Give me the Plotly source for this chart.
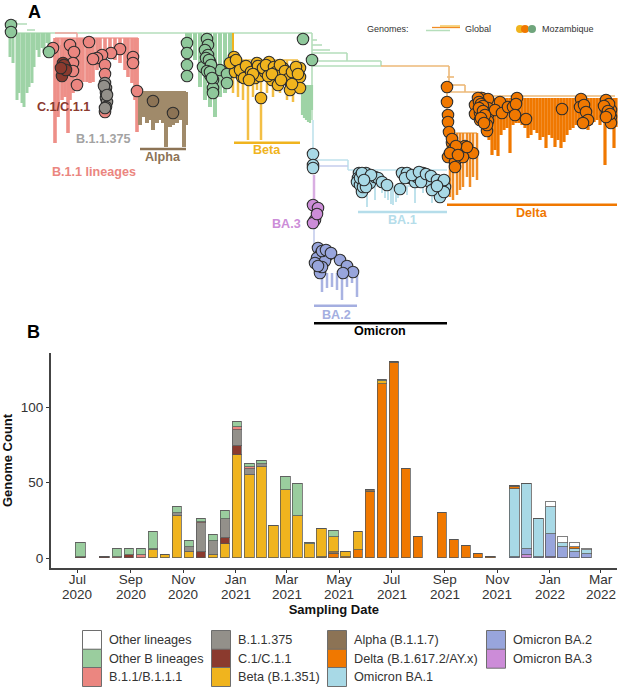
import plotly.graph_objects as go

# ---- panel B data (genomes per two week bin) ----
dates = ["2020-07-05", "2020-08-02", "2020-08-16", "2020-08-30", "2020-09-13", "2020-09-27", "2020-10-11",
         "2020-10-25", "2020-11-08", "2020-11-22", "2020-12-06", "2020-12-20", "2021-01-03", "2021-01-17",
         "2021-01-31", "2021-02-14", "2021-02-28", "2021-03-14", "2021-03-28", "2021-04-11", "2021-04-25",
         "2021-05-09", "2021-05-23", "2021-06-06", "2021-06-20", "2021-07-04", "2021-07-18", "2021-08-01",
         "2021-08-29", "2021-09-12", "2021-09-26", "2021-10-10", "2021-10-24", "2021-11-21", "2021-12-05",
         "2021-12-19", "2022-01-02", "2022-01-16", "2022-01-30", "2022-02-13"]

ba3 =     [0,0,0,0,0,0,0,0,0,0,0,0,0,0,0,0,0,0,0,0,0,0,0,0,0,0,0,0,0,0,0,0,0,0,2,0,1,0,0,0]
ba2 =     [0,0,0,0,0,0,0,0,0,0,0,0,0,0,0,0,0,0,0,0,0,0,0,0,0,0,0,0,0,0,0,0,0,1,4,1,15,7,4,3]
ba1 =     [0,0,0,0,0,0,0,0,0,0,0,0,0,0,0,0,0,0,0,0,0,0,0,0,0,0,0,0,0,0,0,0,0,45,43,25,18,3,2,2]
delta =   [0,0,0,0,0,0,0,0,0,0,0,0,0,0,0,0,0,0,0,0,3,1,5,44,115,129,59,14,30,12,8,3,1,1,0,0,0,0,1,0]
alpha =   [0,0,0,0,0,0,0,0,0,0,0,0,0,0,0,0,0,0,0,1,1,0,0,1,0,1,0,0,0,0,0,0,0,1,0,0,0,0,0,0]
beta =    [0,0,0,0,0,5,2,28,4,0,2,9,68,55,60,21,45,28,9,18,10,3,12,0,2,0,0,0,0,0,0,0,0,0,0,0,0,0,0,0]
c1 =      [1,1,0,2,0,0,0,0,0,4,0,4,6,0,0,0,0,0,0,0,0,0,0,0,0,0,0,0,0,0,0,0,0,0,0,0,0,0,0,0]
b11375 =  [0,0,0,0,0,1,0,2,3,19,9,13,11,4,2,0,0,0,0,0,0,0,0,0,0,0,0,0,0,0,0,0,0,0,0,0,0,0,0,0]
b11 =     [0,0,1,0,2,0,0,0,0,1,0,0,2,1,0,0,0,0,0,0,0,0,0,0,0,0,0,0,0,0,0,0,0,0,0,0,0,0,0,0]
other_b = [9,0,5,4,4,11,0,4,4,2,4,5,3,2,2,0,9,21,1,0,4,0,0,0,1,0,0,0,0,0,0,0,0,0,0,0,0,0,0,0]
other =   [0,0,0,0,0,0,0,0,0,0,0,0,0,0,0,0,0,0,0,0,0,0,0,0,0,0,0,0,0,0,0,0,0,0,0,0,3,4,3,1]

stack_series = [ba3, ba2, ba1, delta, alpha, beta, c1, b11375, b11, other_b, other]
stack_names = ["Omicron BA.3", "Omicron BA.2", "Omicron BA.1", "Delta (B.1.617.2/AY.x)", "Alpha (B.1.1.7)",
               "Beta (B.1.351)", "C.1/C.1.1", "B.1.1.375", "B.1.1/B.1.1.1", "Other B lineages", "Other lineages"]
stack_colors = ["#CC8CD8", "#98A5DC", "#A8D9E6", "#F07800", "#8C7355",
                "#F0B41E", "#8B3A2E", "#93908A", "#EB8680", "#9ACD9E", "#FFFFFF"]

month_ticks = ["2020-07-01", "2020-09-01", "2020-11-01", "2021-01-01", "2021-03-01", "2021-05-01",
               "2021-07-01", "2021-09-01", "2021-11-01", "2022-01-01", "2022-03-01"]
month_labels = ["Jul", "Sep", "Nov", "Jan", "Mar", "May", "Jul", "Sep", "Nov", "Jan", "Mar"]
year_labels = ["2020", "2020", "2020", "2021", "2021", "2021", "2021", "2021", "2021", "2022", "2022"]

# ---- panel A data, tree axis units ----
# hanging tips: x position and how deep each one goes
green1_x = [10,13,17,19,22,24,27,29,32,34,37,39,42,44,47,49]
green1_end = [57,63,100,93,103,107,93,87,83,67,50,57,48,53,43,47]
red_x = [55,58,62,65,68,70,73,77,80,83,87,90,93,97,100,105,110,115,120,125,128,132,135,137]
red_end = [143,117,100,97,133,100,93,90,82,82,82,83,82,70,67,57,53,60,63,70,77,83,100,132]
alpha_x = [140,143,147,150,153,157,160,163,166,170,173,177,180,184,186]
alpha_end = [125,117,123,120,130,123,120,123,147,127,125,123,120,147,125]
green2_x = [187,190,195,200,205,210,215,220,225,230]
green2_end = [40,43,60,87,100,107,117,97,93,87]
beta_x = [233,238,243,248,253,257,261,267,273,280,287,293,298]
beta_end = [93,97,100,140,97,90,140,93,97,93,100,102,93]
green3_x = [302,304,306,308,310,312]
green3_end = [115,118,120,122,123,110]
delta_x = [480,483,486,489,492,495,498,501,504,507,510,513,516,519,522,525,528,531,534,537,540,543,546,549,
           552,555,558,561,564,567,570,573,576,579,582,585,588,591,594,597,600,603,605,608,611,614,616]
delta_end = [122,128,135,140,155,150,156,135,130,128,153,125,123,123,125,128,138,135,130,133,140,137,148,135,
             138,147,140,148,142,135,130,128,125,122,128,122,130,125,122,120,125,120,165,125,127,148,127]
delta2_x = [450,453,457,460,463,467,470,473,477]
delta2_end = [197,200,195,190,187,177,187,177,180]
ba1_x = [358,367,375,382,385,388,391,393,396,398,407,415,423,432,437]
ba1_end = [195,207,200,193,198,200,204,205,202,198,195,203,193,203,197]
ba2_x = [322,327,332,337,342,347,352,357]
ba2_end = [292,288,287,290,300,287,283,297]

# tips in circles: Mozambique genomes
green_cx = [11,11,49,187,187,187,187,207,208,205,208,210,208,210,213,213,213,203,220,227,227,303,312,
            206,209,211,207,210,212]
green_cy = [25,32,52,43,53,65,76,39,45,50,55,62,68,75,80,88,93,67,70,74,83,39,60,
            58,60,65,71,72,78]
red_cx = [53,70,74,89,73,73,77,120,111,102,97,93,105,133,133,137,105,105]
red_cy = [48,45,52,42,63,71,85,49,53,55,58,59,65,57,63,91,74,112]
c1_cx = [63,65,63,62,64,66,61]
c1_cy = [63,67,72,76,65,70,68]
grey_cx = [105,106,106,106,107,106,105,104,107]
grey_cy = [83,88,93,98,102,107,108,86,95]
alpha_cx = [153,173]
alpha_cy = [101,113]
beta_cx = [234,233,238,235,243,242,248,257,255,255,260,269,270,272,277,278,283,287,290,290,295,293,300,300,300,261,230,265,
           236,240,246,244,251,258,263,266,268,274,276,280,285,288,292,296,298,253,249,272,281,292]
beta_cy = [57,62,65,72,70,77,73,63,70,78,76,62,70,80,75,85,68,75,82,90,70,78,68,77,88,98,63,72,
           60,70,66,78,72,66,68,65,76,67,72,65,71,79,72,67,74,74,80,74,80,84]
ba1_cx = [359,358,357,360,362,366,368,370,375,378,382,387,400,402,407,410,415,417,423,427,430,435,442,445,442,440,432,360,363,
          362,366,371,364,405,412,419,421,426,431,437,440,444,444,437]
ba1_cy = [173,178,182,185,192,173,178,183,177,178,182,185,189,173,173,178,182,177,173,178,182,188,190,187,182,197,190,178,187,
          173,187,175,180,178,175,172,182,174,176,180,185,180,192,186]
ba3_cx = [313,315,313,318,317]
ba3_cy = [205,220,223,208,214]
ba2_cx = [318,320,317,328,325,340,347,353,343,320,322,315,322,326,331,318]
ba2_cy = [248,255,258,255,261,260,266,272,273,273,267,263,251,250,253,266]
omi_cx = [313,313,313]
omi_cy = [154,165,168]
delta_cx = [447,447,448,448,449,452,453,448,455,455,465,473,463,467,
            475,475,480,480,480,480,482,488,488,488,488,487,487,500,495,502,508,513,517,516,515,526,562,581,580,584,586,588,583,607,608,611,611,611,607,605,480,482,483,
            478,479,481,483,479,483,485,481,484,606,609,604,608,610,606,452,456,450,458]
delta_cy = [87,102,115,122,132,143,150,157,162,167,146,153,157,147,
            105,114,100,107,113,120,98,99,108,115,121,131,125,102,110,113,107,107,98,104,115,119,109,99,107,105,112,120,123,103,108,110,117,123,113,107,103,110,117,
            98,102,104,106,108,111,115,118,123,100,104,106,111,114,117,139,146,153,155]

# branches, None splits the segments
green_branch_x = [11,312,None,11,17,None,17,27,None,27,35,None,312,312,None,312,317,None,312,322,None,312,330,None,
                  312,347,None,347,347,None,312,381,None,312,381,None,381,381]
green_branch_y = [33,33,None,21,21,None,24,24,None,30,30,None,33,120,None,40,40,None,45,45,None,50,50,None,
                  53,53,None,53,61,None,61,61,None,66,66,None,61,66]
red_branch_x = [55,138,None,55,77,None,77,77,None,138,138]
red_branch_y = [38,38,None,33,33,None,33,38,None,38,92]
orange_branch_x = [381,449,None,449,449,None,447,454,None,447,465,None,465,465,None,448,482,None,482,615,None,447,447,None,447,477]
orange_branch_y = [66,66,None,66,82,None,77,77,None,85,85,None,85,92,None,92,92,None,96,96,None,85,160,None,133,133]
blue_branch_x = [313,313,None,313,348,None,348,348,None,348,447,None,360,440]
blue_branch_y = [120,150,None,160,160,None,160,170,None,170,170,None,186,186]
lav_branch_x = [313,348,None,314,314]
lav_branch_y = [166,166,None,227,250]
purple_branch_x = [314,314]
purple_branch_y = [175,227]

# clade brackets and labels
bracket_x0 = [234,140,358,447,314,314]
bracket_x1 = [300,186,447,617,357,447]
bracket_y = [142.7,149,212,204.7,305.7,323.3]
bracket_colors = ["#F0B41E", "#8C7355", "#B5DDEA", "#F07800", "#A4AEE0", "#000000"]

label_text = ["C.1/C.1.1", "B.1.1.375", "Alpha", "Beta", "B.1.1 lineages", "BA.3", "BA.1", "BA.2", "Omicron", "Delta"]
label_x = [63,103,163,267,94,286,402,336,380,532]
label_y = [107,139,157,150,172,224,220,315,331,213]
label_colors = ["#8B3A2E", "#A3A3A3", "#8C7355", "#F0B41E", "#EB8680", "#CC8CD8", "#B5DDEA", "#A4AEE0", "#000000", "#F07800"]

# legend rows, as printed
legend_names = ["Other lineages", "Other B lineages", "B.1.1/B.1.1.1", "B.1.1.375", "C.1/C.1.1", "Beta (B.1.351)",
                "Alpha (B.1.1.7)", "Delta (B.1.617.2/AY.x)", "Omicron BA.1", "Omicron BA.2", "Omicron BA.3"]
legend_colors = ["#FFFFFF", "#9ACD9E", "#EB8680", "#93908A", "#8B3A2E", "#F0B41E",
                 "#8C7355", "#F07800", "#A8D9E6", "#98A5DC", "#CC8CD8"]
legend_box_x = [92,92,92,221,221,221,337,337,337,496,496]
legend_box_y = [640,658.7,677,640,658.7,677,640,658.7,677,640,658.7]
legend_text_x = [107,107,107,236,236,236,352,352,352,511,511]

FONT = "Liberation Sans"

fig = go.Figure()


def add_tips(xs, ends, top, color, width):
    # one vertical line per tip, hanging from the clade's branch
    px, py = [], []
    for x, end in zip(xs, ends):
        px += [x, x, None]
        py += [top, end, None]
    fig.add_trace(go.Scatter(x=px, y=py, mode="lines", line=dict(color=color, width=width),
                             xaxis="x2", yaxis="y2", showlegend=False, hoverinfo="skip"))


def add_branch(xs, ys, color, width=1.6):
    fig.add_trace(go.Scatter(x=xs, y=ys, mode="lines", line=dict(color=color, width=width),
                             xaxis="x2", yaxis="y2", showlegend=False, hoverinfo="skip"))


def add_circles(xs, ys, color):
    fig.add_trace(go.Scatter(x=xs, y=ys, mode="markers",
                             marker=dict(size=11.5, color=color, line=dict(color="#2e2e2e", width=1.1)),
                             xaxis="x2", yaxis="y2", showlegend=False, hoverinfo="skip"))


# stacked bars
for vals, name, col in zip(stack_series, stack_names, stack_colors):
    fig.add_trace(go.Bar(x=dates, y=vals, name=name, width=950400000,
                         marker=dict(color=col, line=dict(color="rgba(85,85,85,0.75)", width=1)),
                         showlegend=False, hoverinfo="skip"))

# tree
add_branch(green_branch_x, green_branch_y, "#B5DEBB")
add_branch(red_branch_x, red_branch_y, "#F0A8A2")
add_branch(orange_branch_x, orange_branch_y, "#EDB877")
add_branch(blue_branch_x, blue_branch_y, "#BFE2EC")
add_branch(lav_branch_x, lav_branch_y, "#C4CCEC")
add_branch(purple_branch_x, purple_branch_y, "#D9AEE2", 2.5)
add_branch([233, 233], [33, 60], "#F0B41E", 2)
add_branch([233, 298], [60, 60], "#F5CE72", 2)
add_branch([140, 186], [92, 92], "#A08A6A", 2)
add_branch([63, 63], [45, 75], "#8B3A2E", 5)
add_branch([105, 105], [80, 112], "#93908A", 4)

add_tips(green1_x, green1_end, 33, "#9ED3A6", 3)
add_tips(red_x, red_end, 38, "#EE8F88", 3.6)
add_tips(alpha_x, alpha_end, 92, "#A08A6A", 4)
add_tips(green2_x, green2_end, 33, "#9ED3A6", 4)
add_tips(beta_x, beta_end, 60, "#F3BF45", 2.5)
add_tips(green3_x, green3_end, 85, "#9ED3A6", 2.2)
add_tips(delta_x, delta_end, 98, "#F07800", 3.2)
add_tips(delta2_x, delta2_end, 133, "#F08C25", 2.5)
add_tips(ba1_x, ba1_end, 186, "#BFE2EC", 2)
add_tips(ba2_x, ba2_end, 273, "#A9B3E2", 2.5)

add_circles(red_cx, red_cy, "#EB8680")
add_circles(green_cx, green_cy, "#8FC89B")
add_circles(c1_cx, c1_cy, "#8B3A2E")
add_circles(grey_cx, grey_cy, "#93908A")
add_circles(alpha_cx, alpha_cy, "#8C7355")
add_circles(beta_cx, beta_cy, "#F0B41E")
add_circles(omi_cx, omi_cy, "#A8D9E6")
add_circles(ba1_cx, ba1_cy, "#A8D9E6")
add_circles(ba2_cx, ba2_cy, "#98A5DC")
add_circles(ba3_cx, ba3_cy, "#CC8CD8")
add_circles(delta_cx, delta_cy, "#F07800")

# clade brackets
for x0, x1, yb, col in zip(bracket_x0, bracket_x1, bracket_y, bracket_colors):
    add_branch([x0, x1], [yb, yb], col, 2.4)

# little key at the top of panel A
add_branch([432, 460], [27.5, 27.5], "#F08C25", 1.3)
add_branch([440, 460], [26, 26], "#F3BF45", 1.3)
add_branch([426, 450], [30.5, 30.5], "#B5DEBB", 1.5)
fig.add_trace(go.Scatter(x=[520, 525, 532], y=[29, 29, 29], mode="markers",
                         marker=dict(size=8, color=["#F0B41E", "#F07800", "#6FA57C"]),
                         xaxis="x2", yaxis="y2", showlegend=False, hoverinfo="skip"))

# bottom legend, boxes touch each other
fig.add_trace(go.Scatter(x=legend_box_x, y=legend_box_y, mode="markers",
                         marker=dict(symbol="square", size=19, color=legend_colors,
                                     line=dict(color="#6e6e6e", width=1)),
                         xaxis="x2", yaxis="y2", showlegend=False, hoverinfo="skip"))

for t, x, y, c in zip(label_text, label_x, label_y, label_colors):
    fig.add_annotation(x=x, y=y, xref="x2", yref="y2", text="<b>%s</b>" % t, showarrow=False,
                       font=dict(family=FONT, size=12.6, color=c))
for t, x, y in zip(legend_names, legend_text_x, legend_box_y):
    fig.add_annotation(x=x, y=y, xref="x2", yref="y2", text=t, showarrow=False, xanchor="left",
                       font=dict(family=FONT, size=12.7, color="#333333"))
for t, x, y in [("<b>A</b>", 34, 12), ("<b>B</b>", 33, 332)]:
    fig.add_annotation(x=x, y=y, xref="x2", yref="y2", text=t, showarrow=False,
                       font=dict(family=FONT, size=18, color="#000000"))
for t, x in [("Genomes:", 388), ("Global", 478), ("Mozambique", 568)]:
    fig.add_annotation(x=x, y=28.5, xref="x2", yref="y2", text=t, showarrow=False,
                       font=dict(family=FONT, size=9, color="#333333"))
# years sit on a second row under the month ticks
for d, yr in zip(month_ticks, year_labels):
    fig.add_annotation(x=d, y=594, xref="x", yref="y2", text=yr, showarrow=False,
                       font=dict(family=FONT, size=13.5, color="#333333"))

fig.update_layout(
    width=625, height=693,
    margin=dict(l=0, r=0, t=0, b=0),
    paper_bgcolor="white", plot_bgcolor="rgba(0,0,0,0)",
    barmode="stack", bargap=0,
    showlegend=False,
    font=dict(family=FONT, color="#333333"),
    xaxis=dict(domain=[50.7 / 625, 617 / 625], type="date", range=["2020-05-31", "2022-03-20"],
               tickvals=month_ticks, ticktext=month_labels, ticks="outside", ticklen=3, tickwidth=1,
               tickcolor="#333333", tickfont=dict(size=13.5, color="#333333"), ticklabelstandoff=-5,
               showline=True, linecolor="#444444", linewidth=1.6, showgrid=False, zeroline=False,
               title=dict(text="<b>Sampling Date</b>", font=dict(size=13, color="#111111"), standoff=19)),
    yaxis=dict(domain=[1 - 568 / 693, 1 - 353 / 693], range=[-6.6, 135.8],
               tickvals=[0, 50, 100], ticks="outside", ticklen=3, tickwidth=1, tickcolor="#333333",
               tickfont=dict(size=13.5, color="#333333"),
               showline=True, linecolor="#444444", linewidth=1.6, showgrid=False, zeroline=False,
               title=dict(text="<b>Genome Count</b>", font=dict(size=13, color="#111111"), standoff=5)),
    xaxis2=dict(domain=[0, 1], range=[0, 625], visible=False, fixedrange=True, anchor="y2"),
    yaxis2=dict(domain=[0, 1], range=[693, 0], visible=False, fixedrange=True, anchor="x2"),
)

fig.write_html("out.html", config={"displayModeBar": False},
               post_script="document.body.style.margin='0';")
